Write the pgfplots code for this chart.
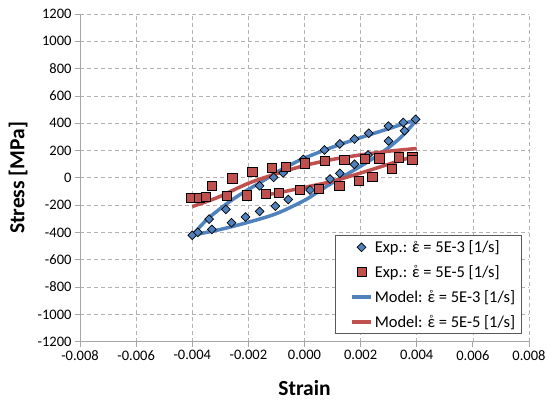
\documentclass[border=0pt]{standalone}
\usepackage{fontspec}
\setmainfont{Carlito}
\usepackage{pgfplots}
\pgfplotsset{compat=1.18}
\definecolor{xlBlue}{HTML}{4F81BD}
\definecolor{xlRed}{HTML}{C0504D}
\newcommand{\epsr}{\ooalign{ε\cr\hidewidth\raisebox{5.5bp}{\fontsize{9bp}{9bp}\selectfont °}\hidewidth\cr}}

\begin{document}
\begin{tikzpicture}
\begin{axis}[
  name=ax, scale only axis, width=449bp, height=327.7bp,
  xmin=-0.008, xmax=0.008, ymin=-1200, ymax=1200,
  scaled x ticks=false, scaled y ticks=false,
  axis lines=left, axis line style={-, gray!70, line width=0.8bp},
  xtick={-0.008,-0.006,-0.004,-0.002,0,0.002,0.004,0.006,0.008},
  xticklabels={-0.008,-0.006,-0.004,-0.002,0.000,0.002,0.004,0.006,0.008},
  ytick={-1200,-1000,-800,-600,-400,-200,0,200,400,600,800,1000,1200},
  yticklabels={-1200,-1000,-800,-600,-400,-200,0,200,400,600,800,1000,1200},
  tick align=outside, major tick length=5bp, tick style={gray!70, line width=0.8bp},
  ticklabel style={font=\fontsize{14.5bp}{16bp}\selectfont},
  grid=major, major grid style={gray!60, dash pattern=on 4bp off 3bp, line width=0.7bp},
  xlabel={\textbf{Strain}}, ylabel={\textbf{Stress [MPa]}},
  label style={font=\fontsize{21.5bp}{24bp}\selectfont},
  xlabel style={at={(axis description cs:0.5,-0.141)}, anchor=center},
  ylabel style={at={(axis description cs:-0.138,0.5)}, anchor=center},
  legend style={at={(0.568,0.0235)}, anchor=south west, draw=gray!70!black,
    line width=0.5bp, font=\fontsize{16.5bp}{19bp}\selectfont,
    inner xsep=4bp, inner ysep=3bp, row sep=7.5bp,
    nodes={inner xsep=2bp}},
  legend cell align=left,
  legend image code/.code={\path (0bp,0bp);
    \draw[mark repeat=2, mark phase=2, #1] plot coordinates {(11bp,0bp) (20.5bp,0bp) (30bp,0bp)};},
]
% model curves (drawn first, below the markers)
\addplot[forget plot, smooth, xlBlue, line width=3.5bp] coordinates {
(-0.004,-420) (-0.0035,-310) (-0.003,-225) (-0.0025,-150) (-0.002,-85)
(-0.0015,-25) (-0.001,40) (-0.0005,95) (0,145) (0.001,225) (0.002,295)
(0.003,360) (0.004,428)};
\addplot[forget plot, smooth, xlBlue, line width=3.5bp] coordinates {
(-0.004,-420) (-0.003,-378) (-0.002,-325) (-0.001,-262) (0,-165)
(0.0005,-100) (0.001,-35) (0.0015,25) (0.002,85) (0.0025,150)
(0.003,222) (0.0035,310) (0.004,425)};
\addplot[forget plot, smooth, xlRed, line width=3.5bp] coordinates {
(-0.004,-210) (-0.0035,-175) (-0.003,-135) (-0.002,-40) (-0.001,30)
(0,90) (0.001,135) (0.002,168) (0.003,195) (0.004,215)};
\addplot[forget plot, smooth, xlRed, line width=3.5bp] coordinates {
(-0.0015,-128) (-0.001,-112) (0,-70) (0.001,-25) (0.002,35)
(0.003,100) (0.004,165)};
% experiments
\addplot[only marks, mark=square*, mark size=3.1bp,
  mark options={rotate=45, fill=xlBlue, draw=black, line width=0.7bp}] coordinates {
(-0.0040,-420) (-0.0038,-400) (-0.0034,-302) (-0.0033,-378) (-0.0028,-231)
(-0.0026,-329) (-0.0021,-287) (-0.0016,-58) (-0.0016,-246) (-0.0011,4)
(-0.00104,-207) (-0.00076,37) (-0.00058,-158) (-0.00004,135) (0.0002,-89)
(0.00071,204) (0.00091,-9) (0.00126,248) (0.00126,33) (0.00178,284)
(0.00178,99) (0.00229,326) (0.00226,167) (0.00299,379) (0.00299,270)
(0.00352,406) (0.00356,345) (0.00396,428)};
\addlegendentry{Exp.: \epsr{} = 5E-3 [1/s]}
\addplot[only marks, mark=square*, mark size=4.6bp,
  mark options={fill=xlRed, draw=black, line width=0.7bp}] coordinates {
(-0.00406,-146) (-0.00375,-146) (-0.00351,-141) (-0.00331,-60) (-0.00277,-133)
(-0.00257,-4) (-0.00206,-128) (-0.00186,45) (-0.00137,-119) (-0.00116,74)
(-0.00090,-109) (-0.00066,81) (-0.00016,-89) (0.0000,106) (0.00052,-82)
(0.00073,123) (0.00124,-58) (0.00142,130) (0.00195,-23) (0.00216,138)
(0.00242,8) (0.00267,143) (0.00312,64) (0.00337,150) (0.00384,150)
(0.00384,130)};
\addlegendentry{Exp.: \epsr{} = 5E-5 [1/s]}
\addlegendimage{xlBlue, line width=3.5bp}
\addlegendentry{Model: \epsr{} = 5E-3 [1/s]}
\addlegendimage{xlRed, line width=3.5bp}
\addlegendentry{Model: \epsr{} = 5E-5 [1/s]}
\end{axis}
\pgfresetboundingbox
\path[use as bounding box] ([shift={(-80bp,-60.3bp)}]ax.south west) rectangle ([shift={(18bp,14bp)}]ax.north east);
\end{tikzpicture}
\end{document}
